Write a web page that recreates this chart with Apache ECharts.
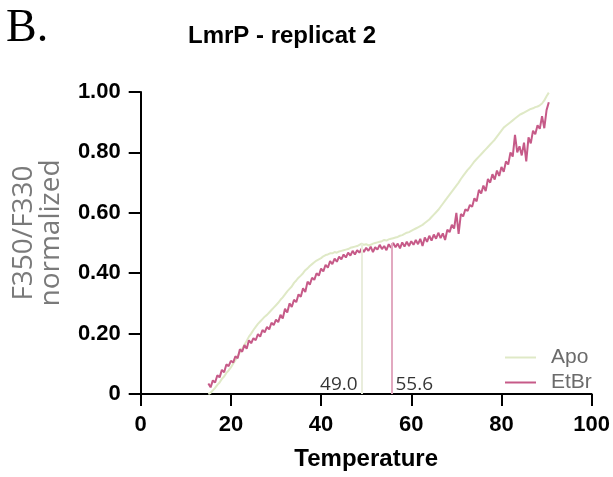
<!DOCTYPE html>
<html>
<head>
<meta charset="utf-8">
<script src="https://cdn.jsdelivr.net/npm/echarts@6/dist/echarts.min.js"></script>
<style>html,body{margin:0;padding:0;background:#fff}#c{width:613px;height:477px}</style>
</head>
<body>
<div id="c"></div>
<script>
const temperature = [
 15.0,15.5,16.0,16.5,17.0,17.5,18.0,18.5,19.0,19.5,20.0,20.5,21.0,21.5,22.0,22.5,23.0,23.5,24.0,24.5,
 25.0,25.5,26.0,26.5,27.0,27.5,28.0,28.5,29.0,29.5,30.0,30.5,31.0,31.5,32.0,32.5,33.0,33.5,34.0,34.5,
 35.0,35.5,36.0,36.5,37.0,37.5,38.0,38.5,39.0,39.5,40.0,40.5,41.0,41.5,42.0,42.5,43.0,43.5,44.0,44.5,
 45.0,45.5,46.0,46.5,47.0,47.5,48.0,48.5,49.0,49.5,50.0,50.5,51.0,51.5,52.0,52.5,53.0,53.5,54.0,54.5,
 55.0,55.5,56.0,56.5,57.0,57.5,58.0,58.5,59.0,59.5,60.0,60.5,61.0,61.5,62.0,62.5,63.0,63.5,64.0,64.5,
 65.0,65.5,66.0,66.5,67.0,67.5,68.0,68.5,69.0,69.5,70.0,70.5,71.0,71.5,72.0,72.5,73.0,73.5,74.0,74.5,
 75.0,75.5,76.0,76.5,77.0,77.5,78.0,78.5,79.0,79.5,80.0,80.5,81.0,81.5,82.0,82.5,83.0,83.5,84.0,84.5,
 85.0,85.5,86.0,86.5,87.0,87.5,88.0,88.5,89.0,89.5,90.0,90.5
];
const apo = [
 0.000,0.004,0.012,0.020,0.030,0.038,0.050,0.058,0.070,0.078,0.088,0.100,0.112,0.125,0.138,0.150,0.162,0.176,0.190,0.200,
 0.212,0.222,0.232,0.240,0.248,0.256,0.262,0.270,0.278,0.286,0.294,0.302,0.312,0.320,0.330,0.340,0.348,0.356,0.368,0.376,
 0.385,0.392,0.400,0.410,0.416,0.424,0.430,0.436,0.442,0.446,0.450,0.456,0.460,0.462,0.466,0.466,0.470,0.468,0.472,0.474,
 0.476,0.478,0.480,0.484,0.486,0.488,0.490,0.494,0.498,0.494,0.496,0.492,0.494,0.498,0.500,0.502,0.504,0.506,0.510,0.508,
 0.512,0.514,0.516,0.518,0.520,0.524,0.526,0.530,0.534,0.536,0.540,0.544,0.548,0.552,0.556,0.560,0.566,0.572,0.578,0.586,
 0.594,0.602,0.610,0.620,0.630,0.640,0.650,0.660,0.670,0.680,0.690,0.700,0.712,0.722,0.732,0.742,0.750,0.760,0.770,0.778,
 0.786,0.794,0.802,0.810,0.818,0.826,0.834,0.842,0.852,0.862,0.872,0.882,0.888,0.894,0.900,0.906,0.912,0.918,0.924,0.928,
 0.932,0.936,0.940,0.944,0.946,0.950,0.952,0.956,0.962,0.972,0.986,0.998
];
const etbr = [
 0.035,0.022,0.045,0.038,0.062,0.055,0.080,0.072,0.098,0.092,0.110,0.104,0.125,0.118,0.148,0.140,0.162,0.150,0.178,0.168,
 0.185,0.178,0.198,0.190,0.212,0.204,0.222,0.214,0.236,0.228,0.246,0.238,0.262,0.250,0.282,0.270,0.300,0.288,0.312,0.304,
 0.330,0.322,0.350,0.338,0.372,0.362,0.385,0.378,0.400,0.392,0.415,0.406,0.428,0.418,0.440,0.430,0.448,0.438,0.455,0.446,
 0.462,0.452,0.468,0.458,0.474,0.462,0.476,0.468,0.482,0.470,0.484,0.474,0.488,0.470,0.486,0.478,0.494,0.480,0.490,0.476,
 0.496,0.484,0.500,0.486,0.498,0.482,0.502,0.488,0.504,0.490,0.506,0.494,0.510,0.496,0.514,0.490,0.518,0.504,0.524,0.508,
 0.528,0.514,0.534,0.516,0.532,0.510,0.544,0.536,0.560,0.548,0.600,0.530,0.596,0.588,0.612,0.606,0.626,0.620,0.648,0.638,
 0.676,0.664,0.690,0.672,0.712,0.700,0.728,0.710,0.740,0.722,0.752,0.736,0.770,0.760,0.800,0.786,0.858,0.800,0.820,0.790,
 0.832,0.770,0.850,0.830,0.872,0.860,0.890,0.878,0.920,0.880,0.940,0.966
];
const seriesNames = ['Apo', 'EtBr'];
const tmValues = [49.0, 55.6];
const tmTops = [0.498, 0.500];
const xTicks = [0, 20, 40, 60, 80, 100];
const yTicks = [0, 0.2, 0.4, 0.6, 0.8, 1.0];

const lineColors = ['#dfe9c6', '#c65a88'];
const tmColors = ['#e9eddc', '#e2a9c0'];

const chart = echarts.init(document.getElementById('c'), null, {renderer: 'canvas'});
const pair = (arr) => temperature.map((t, i) => [t, arr[i]]);

chart.setOption({
  animation: false,
  backgroundColor: '#fff',
  title: {
    text: 'LmrP - replicat 2',
    left: 183, top: 19,
    textStyle: {fontFamily: 'Liberation Sans', fontWeight: 'bold', fontSize: 24, color: '#000'}
  },
  graphic: [
    {
      type: 'text', left: 6, top: 6,
      style: {text: 'B.', fontFamily: 'Liberation Serif', fontSize: 46, fill: '#000'}
    },
    {
      type: 'text', x: 38, y: 233, rotation: Math.PI / 2,
      style: {text: 'F350/F330\nnormalized', fontFamily: 'Open Sans', fontSize: 28, lineHeight: 27,
        fill: '#7a7a7a', align: 'center', verticalAlign: 'middle'}
    }
  ],
  legend: {
    data: seriesNames,
    orient: 'vertical',
    left: 505, top: 347, padding: 0,
    itemWidth: 31, itemHeight: 14, itemGap: 4,
    icon: 'path://M0,6 L31,6 L31,8 L0,8 Z',
    textStyle: {fontFamily: 'Liberation Sans', fontSize: 21, color: '#6b6b6b', padding: [0,0,0,10]}
  },
  grid: {left: 140.7, right: 20.3, top: 92, bottom: 83},
  xAxis: {
    type: 'value', min: 0, max: 100, interval: 20,
    name: 'Temperature', nameLocation: 'middle', nameGap: 53,
    nameTextStyle: {fontFamily: 'Liberation Sans', fontWeight: 'bold', fontSize: 24, color: '#000'},
    axisLine: {lineStyle: {color: '#000', width: 2}},
    axisTick: {length: 12, lineStyle: {color: '#000', width: 2}},
    axisLabel: {margin: 20, fontFamily: 'Liberation Sans', fontWeight: 'bold', fontSize: 22, color: '#000',
      formatter: v => xTicks.includes(v) ? String(v) : ''},
    splitLine: {show: false}
  },
  yAxis: {
    type: 'value', min: 0, max: 1, interval: 0.2,
    axisLine: {show: true, lineStyle: {color: '#000', width: 2}},
    axisTick: {show: true, length: 12, lineStyle: {color: '#000', width: 2}},
    axisLabel: {margin: 20, fontFamily: 'Liberation Sans', fontWeight: 'bold', fontSize: 22, color: '#000',
      formatter: v => v === 0 ? '0' : v.toFixed(2)},
    splitLine: {show: false}
  },
  series: [
    {
      name: seriesNames[0], type: 'line', data: pair(apo), symbol: 'none',
      lineStyle: {color: lineColors[0], width: 2}, itemStyle: {color: lineColors[0]}, z: 3,
      markLine: {
        silent: true, symbol: 'none', label: {show: false},
        lineStyle: {color: tmColors[0], width: 2, type: 'solid'},
        data: [[{coord: [tmValues[0], 0]}, {coord: [tmValues[0], tmTops[0]]}]]
      }
    },
    {
      name: seriesNames[1], type: 'line', data: pair(etbr), symbol: 'none',
      lineStyle: {color: lineColors[1], width: 2}, itemStyle: {color: lineColors[1]}, z: 4,
      markLine: {
        silent: true, symbol: 'none', label: {show: false},
        lineStyle: {color: tmColors[1], width: 2, type: 'solid'},
        data: [[{coord: [tmValues[1], 0]}, {coord: [tmValues[1], tmTops[1]]}]]
      }
    },
    {
      type: 'scatter', symbolSize: 0, silent: true, z: 5,
      data: [
        {value: [tmValues[0], 0], label: {position: 'left', distance: 4, offset: [0, -9]}},
        {value: [tmValues[1], 0], label: {position: 'right', distance: 4, offset: [0, -9]}}
      ],
      label: {
        show: true,
        fontFamily: 'Open Sans', fontSize: 19, color: '#000',
        formatter: p => p.value[0].toFixed(1)
      },
      itemStyle: {color: 'transparent'}
    }
  ]
});
</script>
</body>
</html>
